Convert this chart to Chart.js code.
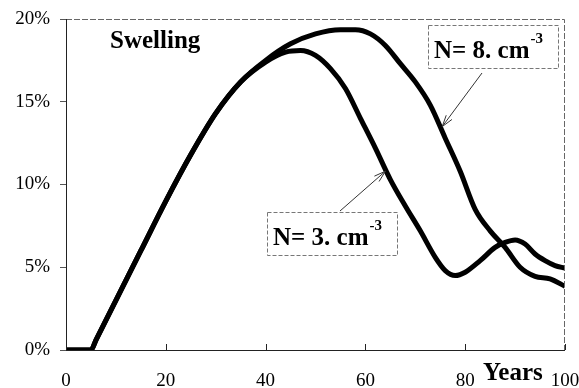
<!DOCTYPE html>
<html>
<head>
<meta charset="utf-8">
<script src="https://cdn.jsdelivr.net/npm/chart.js@4.4.0/dist/chart.umd.min.js"></script>
<style>
  html, body { margin: 0; padding: 0; background: #fff; }
</style>
</head>
<body>
<canvas id="grafico" width="579" height="388"></canvas>
<script>
// valores (anos, inchamento em %)
const anosN3 = [0, 5, 6, 10, 15, 20, 25, 30, 35, 40, 44, 47, 50, 53, 56, 59, 62, 65, 68, 71, 74, 76, 78, 80, 83, 86, 88, 90, 92, 94, 96, 98, 100];
const valoresN3 = [0, 0, 0.6, 3, 6, 9, 11.8, 14.3, 16.2, 17.4, 18.0, 18.1, 17.8, 17.0, 15.8, 14.0, 12.2, 10.3, 8.7, 7.2, 5.6, 4.8, 4.5, 4.7, 5.4, 6.2, 6.5, 6.65, 6.4, 5.8, 5.4, 5.1, 4.95];

const anosN8 = [0, 5, 6, 10, 15, 20, 25, 30, 35, 40, 45, 50, 55, 58, 61, 64, 67, 70, 73, 76, 79, 82, 85, 88, 91, 94, 97, 100];
const valoresN8 = [0, 0, 0.6, 3, 6, 9, 11.8, 14.3, 16.2, 17.5, 18.5, 19.1, 19.35, 19.35, 19.1, 18.4, 17.3, 16.2, 14.8, 12.8, 10.8, 8.5, 7.2, 6.2, 5.0, 4.45, 4.3, 3.85];

const ticksX = [0, 20, 40, 60, 80, 100];
const ticksY = [0, 5, 10, 15, 20];

const serif = "'Liberation Serif', 'DejaVu Serif', serif";

function pontos(xs, ys) {
  return xs.map((x, i) => ({ x: x, y: ys[i] }));
}

// desenha moldura, ticks do eixo x, textos e setas
const anotacoes = {
  id: 'anotacoes',
  afterDraw(chart) {
    const c = chart.ctx;
    const a = chart.chartArea;
    const sx = chart.scales.x, sy = chart.scales.y;
    c.save();

    // moldura superior e direita (tracejada)
    c.strokeStyle = '#666';
    c.lineWidth = 1;
    c.setLineDash([6, 2]);
    c.beginPath();
    c.moveTo(a.left, a.top + 0.5);
    c.lineTo(a.right - 0.5, a.top + 0.5);
    c.lineTo(a.right - 0.5, a.bottom);
    c.stroke();
    c.setLineDash([]);

    // eixos
    c.strokeStyle = '#222';
    c.beginPath();
    c.moveTo(a.left + 0.5, a.top);
    c.lineTo(a.left + 0.5, a.bottom);
    c.moveTo(a.left, a.bottom + 0.5);
    c.lineTo(a.right, a.bottom + 0.5);
    c.stroke();

    // ticks do eixo x para dentro
    ticksX.forEach(v => {
      const px = Math.round(sx.getPixelForValue(v)) + 0.5;
      c.beginPath();
      c.moveTo(px, a.bottom);
      c.lineTo(px, a.bottom - 6);
      c.stroke();
    });

    // Swelling
    c.fillStyle = '#000';
    c.font = 'bold 25px ' + serif;
    c.textBaseline = 'alphabetic';
    c.textAlign = 'left';
    c.fillText('Swelling', 110, 48);

    // caixas de legenda
    function caixa(x, y, w, h, txt) {
      c.strokeStyle = '#777';
      c.lineWidth = 1;
      c.setLineDash([4, 2]);
      c.strokeRect(x + 0.5, y + 0.5, w, h);
      c.setLineDash([]);
      c.fillStyle = '#000';
      c.font = 'bold 25px ' + serif;
      c.fillText(txt, x + 6, y + 33);
      const w1 = c.measureText(txt).width;
      c.font = 'bold 15px ' + serif;
      c.fillText('-3', x + 6 + w1 + 1, y + 18);
    }
    caixa(428, 25, 130, 43, 'N= 8. cm');
    caixa(267, 212, 130, 43, 'N= 3. cm');

    // setas
    function seta(x1, y1, xv, yv) {
      const x2 = sx.getPixelForValue(xv), y2 = sy.getPixelForValue(yv);
      c.strokeStyle = '#333';
      c.lineWidth = 1;
      c.beginPath();
      c.moveTo(x1, y1);
      c.lineTo(x2, y2);
      const ang = Math.atan2(y2 - y1, x2 - x1);
      c.moveTo(x2, y2);
      c.lineTo(x2 - 12 * Math.cos(ang - 0.3), y2 - 12 * Math.sin(ang - 0.3));
      c.moveTo(x2, y2);
      c.lineTo(x2 - 12 * Math.cos(ang + 0.3), y2 - 12 * Math.sin(ang + 0.3));
      c.stroke();
    }
    seta(482, 73, 75.4, 13.5);
    seta(340, 211, 64.0, 10.8);

    // Years
    c.fillStyle = '#000';
    c.font = 'bold 25px ' + serif;
    c.fillText('Years', 483, 380);

    c.restore();
  }
};

const ctx = document.getElementById('grafico').getContext('2d');

const meuGrafico = new Chart(ctx, {
  type: 'line',
  data: {
    datasets: [
      {
        label: 'N= 3. cm-3',
        data: pontos(anosN3, valoresN3),
        borderColor: '#000',
        borderWidth: 5,
        pointRadius: 0,
        cubicInterpolationMode: 'monotone',
        fill: false
      },
      {
        label: 'N= 8. cm-3',
        data: pontos(anosN8, valoresN8),
        borderColor: '#000',
        borderWidth: 5,
        pointRadius: 0,
        cubicInterpolationMode: 'monotone',
        fill: false
      }
    ]
  },
  options: {
    responsive: false,
    animation: false,
    devicePixelRatio: 1,
    layout: { padding: { left: 0, right: 14, top: 19, bottom: 0 } },
    plugins: {
      legend: { display: false },
      tooltip: { enabled: false }
    },
    scales: {
      x: {
        type: 'linear',
        min: 0,
        max: 100,
        afterBuildTicks: s => { s.ticks = ticksX.map(v => ({ value: v })); },
        afterFit: s => { s.height = 38; s.paddingLeft = 0; s.paddingRight = 0; },
        border: { display: false },
        grid: { display: false, drawTicks: false },
        ticks: {
          autoSkip: false,
          padding: 20,
          color: '#000',
          font: { family: serif, size: 19 },
          maxRotation: 0,
          callback: v => String(v)
        }
      },
      y: {
        min: 0,
        max: 20,
        afterBuildTicks: s => { s.ticks = ticksY.map(v => ({ value: v })); },
        afterFit: s => { s.width = 66; s.paddingTop = 0; s.paddingBottom = 0; },
        border: { display: false },
        grid: {
          drawOnChartArea: false,
          drawTicks: true,
          tickLength: 6,
          color: '#555'
        },
        ticks: {
          autoSkip: false,
          padding: 10,
          color: '#000',
          font: { family: serif, size: 19 },
          callback: v => v + '%'
        }
      }
    }
  },
  plugins: [anotacoes]
});
</script>
</body>
</html>
